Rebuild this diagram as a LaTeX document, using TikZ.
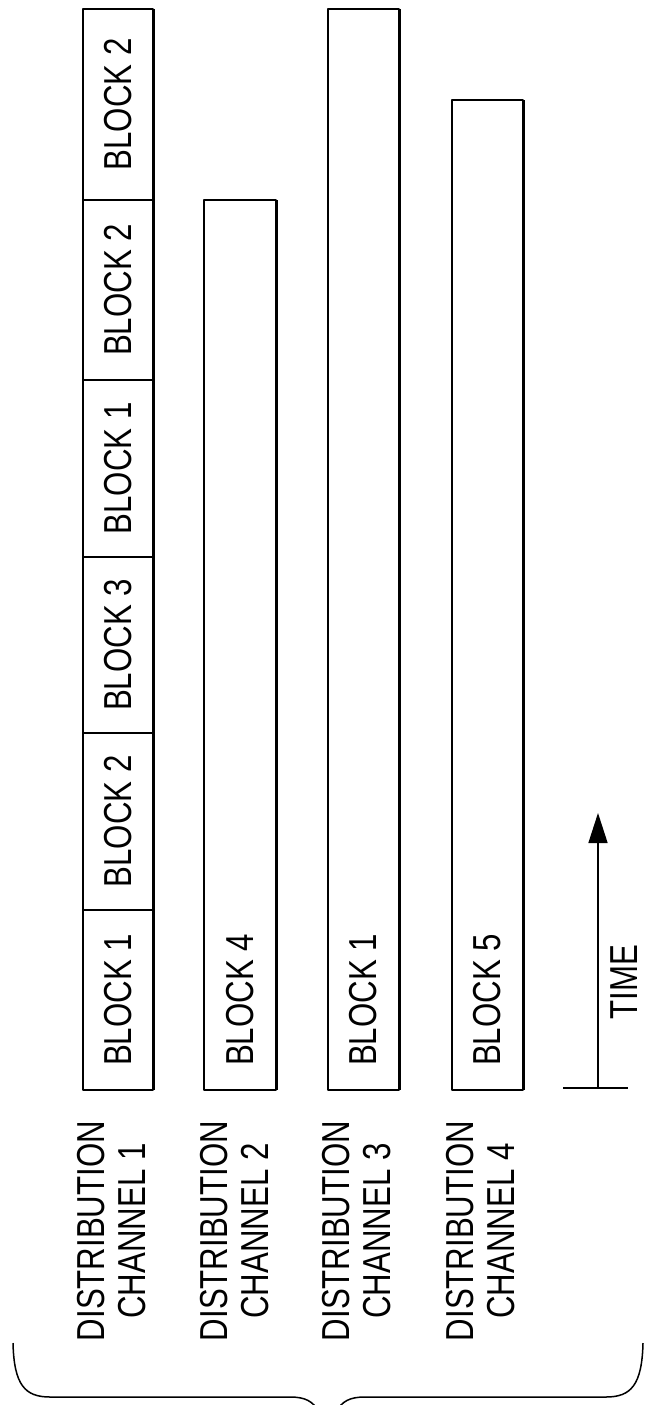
\documentclass[tikz,border=0pt]{standalone}
\usepackage{fontspec}
\setmainfont{Liberation Sans}
\usepackage{graphicx}
\usetikzlibrary{arrows.meta}
\newcommand\sq[1]{\scalebox{0.8}[1]{#1}}
\begin{document}
\begin{tikzpicture}[x=1pt,y=-1pt,line join=round,
  txt/.style={rotate=90,inner sep=0pt,font=\fontsize{39}{41}\selectfont},
  lab/.style={txt,align=center},
  bar/.style={line width=1.8pt},
  rim/.style={line width=3pt},
  div/.style={line width=1.4pt},
  thin/.style={line width=1.5pt}]
\useasboundingbox (0,0) rectangle (646,1405);
\clip (0,0) rectangle (646,1405);

% channel 1
\draw[bar] (83,9) rectangle (153,1090);
\draw[rim] (153,9) -- (153,1090);
\foreach \y in {200,380,557,733,910} \draw[div] (83,\y) -- (153,\y);
\node[txt] (b1a) at (118,1000) {\sq{BLOCK 1}};
\node[txt] (b1b) at (118,821.5) {\sq{BLOCK 2}};
\node[txt] (b1c) at (118,645) {\sq{BLOCK 3}};
\node[txt] (b1d) at (118,468.5) {\sq{BLOCK 1}};
\node[txt] (b1e) at (118,290) {\sq{BLOCK 2}};
\node[txt] (b1f) at (118,104.5) {\sq{BLOCK 2}};

% channel 2
\draw[bar] (204,200) rectangle (276,1090);
\draw[rim] (276,200) -- (276,1090);
\node[txt] (b2a) at (240,1000) {\sq{BLOCK 4}};

% channel 3
\draw[bar] (328,9) rectangle (399,1090);
\draw[rim] (399,9) -- (399,1090);
\node[txt] (b3a) at (363.5,1000) {\sq{BLOCK 1}};

% channel 4
\draw[bar] (452,100) rectangle (523,1090);
\draw[rim] (523,100) -- (523,1090);
\node[txt] (b4a) at (487.5,1000) {\sq{BLOCK 5}};

% channel labels
\node[lab] (l1) at (112,1231) {\sq{DISTRIBUTION}\\\sq{CHANNEL 1}};
\node[lab] (l2) at (235,1231) {\sq{DISTRIBUTION}\\\sq{CHANNEL 2}};
\node[lab] (l3) at (357,1231) {\sq{DISTRIBUTION}\\\sq{CHANNEL 3}};
\node[lab] (l4) at (481,1231) {\sq{DISTRIBUTION}\\\sq{CHANNEL 4}};

% time axis
\coordinate (t0) at (598,1088);
\coordinate (t1) at (598,813);
\coordinate (k0) at (563,1088);
\coordinate (k1) at (628,1088);
\draw[thin] (k0) -- (k1);
\draw[thin,-{Triangle[length=30pt,width=19pt]}] (t0) -- (t1);
\node[txt] (time) at (624,982) {\sq{TIME}};

% brace
\draw[thin] (13,1343) .. controls (14,1385) and (25,1397) .. (50,1397) -- (290,1397)
  .. controls (305,1397) and (313,1401) .. (319,1412);
\draw[thin] (643,1343) .. controls (642,1385) and (631,1397) .. (606,1397) -- (365,1397)
  .. controls (350,1397) and (342,1401) .. (336,1412);
\end{tikzpicture}
\end{document}
